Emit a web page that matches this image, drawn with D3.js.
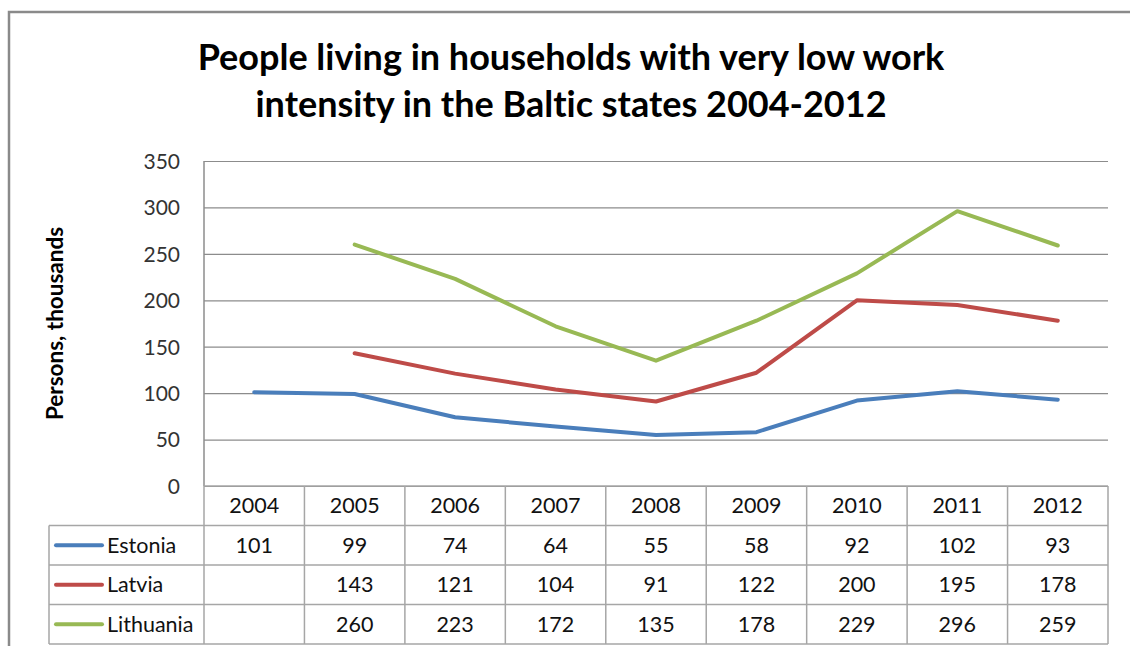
<!DOCTYPE html>
<html>
<head>
<meta charset="utf-8">
<script src="https://cdn.jsdelivr.net/npm/d3@7"></script>
<style>
  html, body { margin: 0; padding: 0; background: #fff; }
  svg { display: block; }
  text { font-family: Lato, "Open Sans", sans-serif; font-variant-ligatures: none; font-feature-settings: "liga" 0; }
</style>
</head>
<body>
<svg id="chart" width="1130" height="646"></svg>
<script>
// Years on the category axis
const years = ["2004", "2005", "2006", "2007", "2008", "2009", "2010", "2011", "2012"];
// Persons living in very-low-work-intensity households, thousands
const estonia   = [101, 99, 74, 64, 55, 58, 92, 102, 93];
const latvia    = [null, 143, 121, 104, 91, 122, 200, 195, 178];
const lithuania = [null, 260, 223, 172, 135, 178, 229, 296, 259];
const seriesNames = ["Estonia", "Latvia", "Lithuania"];
const yTicks = [0, 50, 100, 150, 200, 250, 300, 350];
const titleLines = ["People living in households with very low work",
                    "intensity in the Baltic states 2004-2012"];
const yLabel = "Persons, thousands";

const colors = { Estonia: "#4a7ebb", Latvia: "#be4b48", Lithuania: "#98b954" };
const series = [
  { name: "Estonia", values: estonia },
  { name: "Latvia", values: latvia },
  { name: "Lithuania", values: lithuania }
];

const svg = d3.select("#chart");
const plot = { left: 204, right: 1108, top: 161, bottom: 486 };
const table = { left: 49, bottom: 644 };

const x = d3.scaleBand().domain(years).range([plot.left, plot.right]);
const y = d3.scaleLinear().domain([0, 350]).range([plot.bottom, plot.top]);
const rows = d3.scaleBand().domain(["header"].concat(seriesNames)).range([plot.bottom, table.bottom]);

// Chart frame (top and left edges)
svg.append("path")
  .attr("d", "M9,646 V12 H1130")
  .attr("fill", "none")
  .attr("stroke", "#8a8a8a")
  .attr("stroke-width", 2.5);

// Title
const title = svg.append("text")
  .attr("text-anchor", "middle")
  .attr("font-weight", "bold")
  .attr("font-size", 36)
  .attr("fill", "#000");
title.selectAll("tspan").data(titleLines).join("tspan")
  .attr("x", 571)
  .attr("y", (d, i) => 70 + i * 47)
  .text(d => d);

// Horizontal gridlines and value labels
const yAxis = svg.append("g")
  .attr("transform", `translate(${plot.left},0)`)
  .call(d3.axisLeft(y).tickValues(yTicks).tickSize(-(plot.right - plot.left)).tickPadding(24));
yAxis.select(".domain").remove();
yAxis.selectAll(".tick line").attr("stroke", "#8c8c8c").attr("stroke-width", 1.2);
yAxis.selectAll(".tick text")
  .attr("font-family", "Lato, sans-serif")
  .attr("font-size", 21)
  .attr("fill", "#333")
  .attr("dy", "0.35em");

// Vertical axis line
svg.append("line")
  .attr("x1", plot.left).attr("x2", plot.left)
  .attr("y1", plot.top).attr("y2", plot.bottom)
  .attr("stroke", "#8c8c8c").attr("stroke-width", 1.5);

// Axis title
svg.append("text")
  .attr("transform", `translate(63,${(plot.top + plot.bottom) / 2}) rotate(-90)`)
  .attr("text-anchor", "middle")
  .attr("font-weight", "bold")
  .attr("font-size", 22.5)
  .attr("fill", "#000")
  .text(yLabel);

// Data table grid
const grid = svg.append("g").attr("stroke", "#a6a6a6").attr("stroke-width", 1.5).attr("fill", "none");
// horizontal rules
grid.selectAll("line.h").data(seriesNames.concat(["end"])).join("line")
  .attr("class", "h")
  .attr("x1", table.left).attr("x2", plot.right)
  .attr("y1", d => d === "end" ? table.bottom : rows(d))
  .attr("y2", d => d === "end" ? table.bottom : rows(d));
grid.append("line")
  .attr("x1", plot.left).attr("x2", plot.right)
  .attr("y1", plot.bottom).attr("y2", plot.bottom);
// vertical rules between year columns
grid.selectAll("line.v").data(years.concat(["end"])).join("line")
  .attr("class", "v")
  .attr("x1", d => d === "end" ? plot.right : x(d))
  .attr("x2", d => d === "end" ? plot.right : x(d))
  .attr("y1", plot.bottom).attr("y2", table.bottom);
// left edge of the legend column
grid.append("line")
  .attr("x1", table.left).attr("x2", table.left)
  .attr("y1", rows("Estonia")).attr("y2", table.bottom);

// Header row: years
svg.append("g").selectAll("text").data(years).join("text")
  .attr("x", d => x(d) + x.bandwidth() / 2)
  .attr("y", rows("header") + rows.bandwidth() / 2)
  .attr("dy", "0.35em")
  .attr("text-anchor", "middle")
  .attr("font-size", 21.5)
  .attr("fill", "#111")
  .text(d => d);

// Legend keys and series names
const legend = svg.append("g").selectAll("g").data(series).join("g")
  .attr("transform", d => `translate(0,${rows(d.name) + rows.bandwidth() / 2})`);
legend.append("line")
  .attr("x1", 56).attr("x2", 102)
  .attr("stroke", d => colors[d.name])
  .attr("stroke-width", 4)
  .attr("stroke-linecap", "round");
legend.append("text")
  .attr("x", 107)
  .attr("dy", "0.35em")
  .attr("font-size", 21.5)
  .attr("fill", "#111")
  .text(d => d.name);

// Table values
series.forEach(s => {
  svg.append("g").selectAll("text")
    .data(s.values.map((v, i) => ({ v, year: years[i] })).filter(d => d.v != null))
    .join("text")
    .attr("x", d => x(d.year) + x.bandwidth() / 2)
    .attr("y", rows(s.name) + rows.bandwidth() / 2)
    .attr("dy", "0.35em")
    .attr("text-anchor", "middle")
    .attr("font-size", 21.5)
    .attr("fill", "#111")
    .text(d => d.v);
});

// Lines
const line = d3.line()
  .defined(d => d.v != null)
  .x(d => x(d.year) + x.bandwidth() / 2)
  .y(d => y(d.v));
svg.append("g").selectAll("path").data(series).join("path")
  .attr("d", s => line(s.values.map((v, i) => ({ v, year: years[i] }))))
  .attr("fill", "none")
  .attr("stroke", s => colors[s.name])
  .attr("stroke-width", 4)
  .attr("stroke-linejoin", "round")
  .attr("stroke-linecap", "round");
</script>
</body>
</html>
